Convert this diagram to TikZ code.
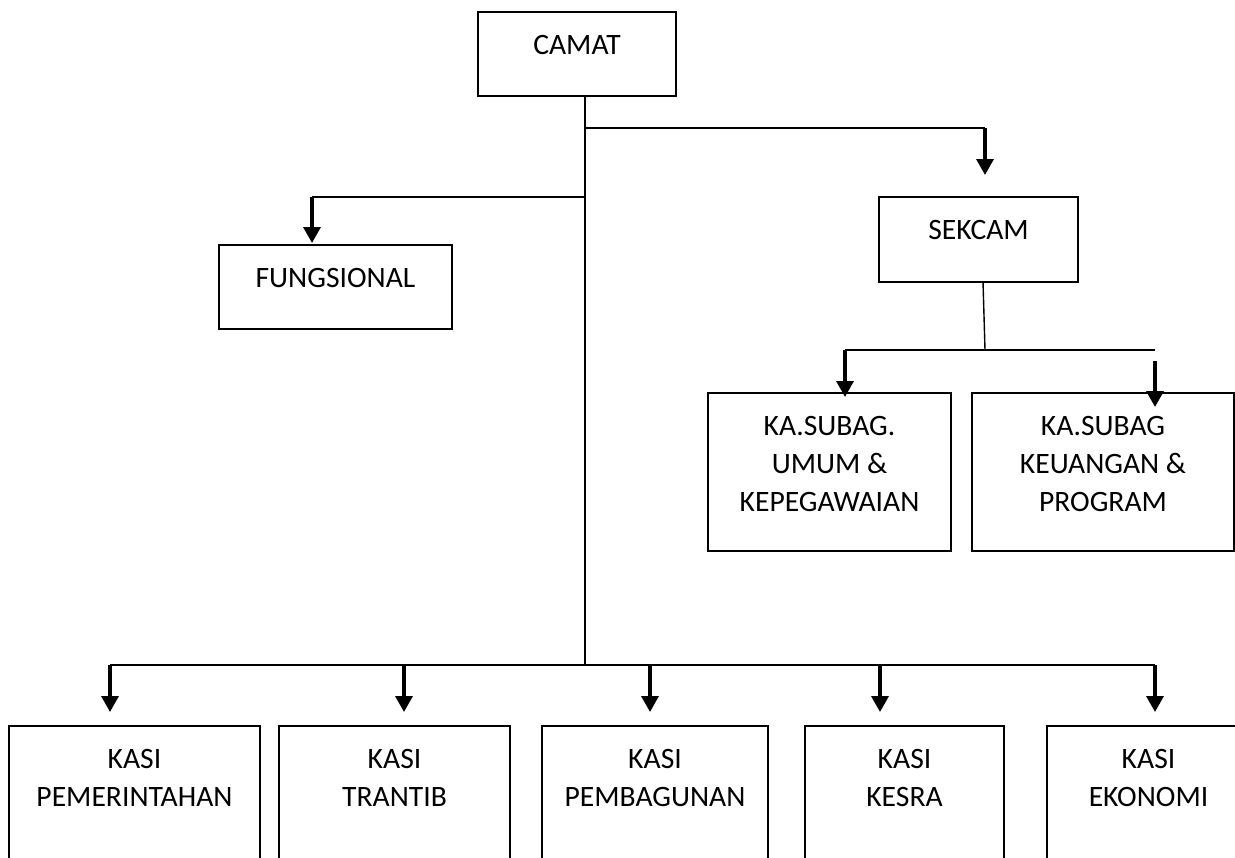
\documentclass[tikz,border=0pt]{standalone}
\usepackage{fontspec}
\setmainfont{Carlito}
\usetikzlibrary{arrows.meta}
\tikzset{
  unit/.style={draw,line width=1pt,rectangle,inner sep=0pt,outer sep=0pt},
  caption/.style={anchor=north,align=center,inner sep=0pt,outer sep=0pt,
    yshift=-11.5pt,font=\fontsize{14.8}{19}\selectfont},
  link/.style={line width=0.7pt},
  down/.style={line width=1.7pt,-{Triangle[width=8.5pt,length=8pt]}}
}

\begin{document}
\begin{tikzpicture}[x=0.5pt,y=-0.5pt]
\useasboundingbox (0,0) rectangle (1235,857);
\clip (0,0) rectangle (1235,857);
% boxes
\node[unit,minimum width=99pt,minimum height=42pt,label={[caption]north:CAMAT}] (camat) at (577,54) {};
\node[unit,minimum width=116.5pt,minimum height=42pt,label={[caption]north:FUNGSIONAL}] (fungsional) at (335.5,287) {};
\node[unit,minimum width=99.5pt,minimum height=42.5pt,label={[caption]north:SEKCAM}] (sekcam) at (978.5,239.5) {};
\node[unit,minimum width=121.5pt,minimum height=79pt,label={[caption]north:KA.SUBAG.\\UMUM \&\\KEPEGAWAIAN}] (umum) at (829.5,472) {};
\node[unit,minimum width=131pt,minimum height=79pt,label={[caption]north:KA.SUBAG\\KEUANGAN \&\\PROGRAM}] (keuangan) at (1103,472) {};
\node[unit,minimum width=125.5pt,minimum height=90pt,label={[caption]north:KASI\\PEMERINTAHAN}] (pemerintahan) at (134.5,816) {};
\node[unit,minimum width=115.5pt,minimum height=90pt,label={[caption]north:KASI\\TRANTIB}] (trantib) at (394.5,816) {};
\node[unit,minimum width=113pt,minimum height=90pt,label={[caption]north:KASI\\PEMBAGUNAN}] (pembagunan) at (655,816) {};
\node[unit,minimum width=99.5pt,minimum height=90pt,label={[caption]north:KASI\\KESRA}] (kesra) at (904.5,816) {};
\node[unit,minimum width=101.5pt,minimum height=90pt,label={[caption]north:KASI\\EKONOMI}] (ekonomi) at (1148.5,816) {};

% junctions and arrow ends
\coordinate (j1) at (585,128);
\coordinate (j2) at (585,197);
\coordinate (j3) at (985,350);
\coordinate (bus) at (585,665);
\coordinate (sekcam-tip) at (985,175);
\coordinate (fungsional-tip) at (312,243);
\coordinate (umum-tip) at (845,397);
\coordinate (keuangan-tail) at (1155,361);
\coordinate (keuangan-tip) at (1155,407);

% trunk
\draw[link] (camat.south -| bus) -- (bus);
\draw[link] (j1) -- (j1 -| sekcam-tip);
\draw[down] (j1 -| sekcam-tip) -- (sekcam-tip);
\draw[link] (j2) -- (j2 -| fungsional-tip);
\draw[down] (j2 -| fungsional-tip) -- (fungsional-tip);

% sekcam
\draw[link] ([xshift=2.25pt]sekcam.south) -- (j3);
\draw[link] (umum-tip |- j3) -- (keuangan-tip |- j3);
\draw[down] (umum-tip |- j3) -- (umum-tip);
\draw[down] (keuangan-tail) -- (keuangan-tip);

% kasi
\foreach \n/\x in {pemerintahan/110,trantib/404,pembagunan/650,kesra/880,ekonomi/1155}{
  \coordinate (\n-tip) at (\x,712);
  \draw[down] (\n-tip |- bus) -- (\n-tip);
}
\draw[link] (pemerintahan-tip |- bus) -- (ekonomi-tip |- bus);
\end{tikzpicture}
\end{document}
